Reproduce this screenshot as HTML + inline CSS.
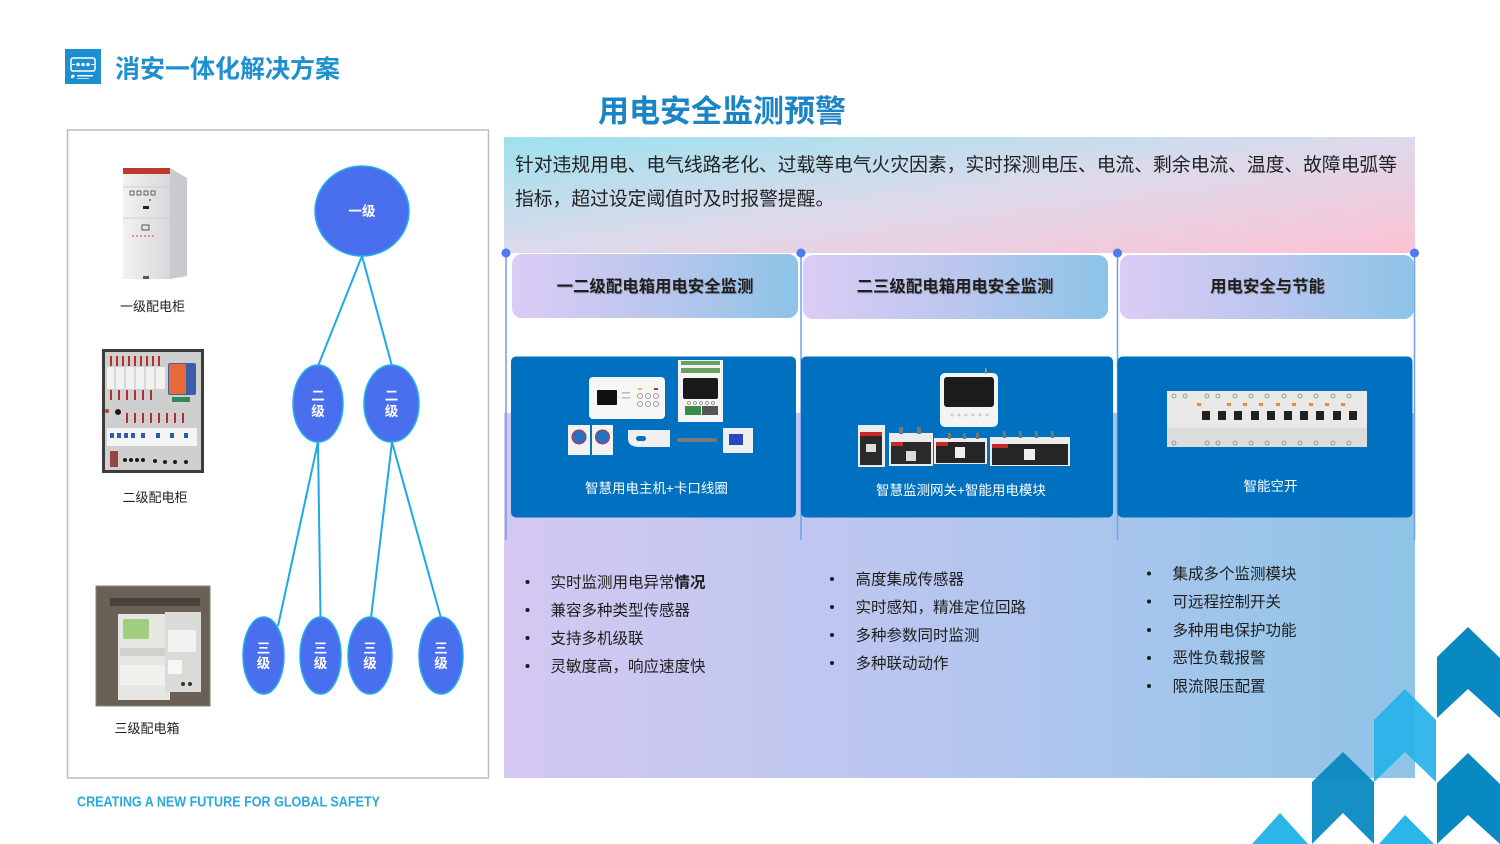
<!DOCTYPE html>
<html><head><meta charset="utf-8">
<style>
html,body{margin:0;padding:0;background:#fff;}
body{width:1500px;height:844px;overflow:hidden;}
svg{display:block;}
text{font-family:"Liberation Sans","Noto Sans CJK SC",sans-serif;}
</style></head>
<body>
<svg width="1500" height="844" viewBox="0 0 1500 844" xmlns="http://www.w3.org/2000/svg">
<defs>
  <linearGradient id="gTop" gradientUnits="userSpaceOnUse" x1="504" y1="137" x2="533" y2="365">
    <stop offset="0" stop-color="#9ce1ee"/>
    <stop offset="0.5" stop-color="#dcdaeb"/>
    <stop offset="1" stop-color="#fcc2d3"/>
  </linearGradient>
  <linearGradient id="gBot" x1="0" y1="0" x2="1" y2="0">
    <stop offset="0" stop-color="#d4c8f2"/>
    <stop offset="0.55" stop-color="#b2c6ee"/>
    <stop offset="1" stop-color="#8ec4e7"/>
  </linearGradient>
  <linearGradient id="gTab" x1="0" y1="0" x2="1" y2="0">
    <stop offset="0" stop-color="#dacdf5"/>
    <stop offset="0.5" stop-color="#bcc6ee"/>
    <stop offset="1" stop-color="#8cc4e7"/>
  </linearGradient>
  <linearGradient id="gCab" x1="0" y1="0" x2="1" y2="0">
    <stop offset="0" stop-color="#f2f2f2"/>
    <stop offset="1" stop-color="#d8d8da"/>
  </linearGradient>
</defs>

<!-- Header logo -->
<rect x="65" y="49" width="36" height="35" fill="#1b8fd0"/>
<rect x="71" y="58" width="24" height="13" rx="2" fill="none" stroke="#fff" stroke-width="1.5"/>
<circle cx="78" cy="64.5" r="1.8" fill="#fff"/>
<circle cx="83" cy="64.5" r="1.8" fill="#fff"/>
<circle cx="88" cy="64.5" r="1.8" fill="#fff"/>
<rect x="72" y="64" width="3" height="1" fill="#fff"/>
<rect x="91" y="64" width="3" height="1" fill="#fff"/>
<path d="M71 76 q2 -3 4 0 q-2 3 -4 2z" fill="#fff"/>
<rect x="77" y="75" width="16" height="1.5" fill="#fff"/>
<rect x="77" y="78" width="12" height="1" fill="#fff" opacity="0.7"/>

<text x="115" y="77.5" font-size="25" font-weight="bold" fill="#1f8fcf">消安一体化解决方案</text>
<text x="598" y="122" font-size="31" font-weight="bold" fill="#1b84c4">用电安全监测预警</text>

<!-- Left box -->
<rect x="67.5" y="130" width="421" height="648" fill="#fff" stroke="#bdbdbd" stroke-width="1.5"/>

<!-- Cabinet 1 -->
<polygon points="170,168 187,178 187,276 170,279" fill="#c9cacd"/>
<rect x="123" y="168" width="47" height="111" fill="url(#gCab)"/>
<rect x="123" y="168" width="47" height="6" fill="#c0392b"/>
<line x1="123" y1="187" x2="170" y2="187" stroke="#c8c8c8" stroke-width="0.8"/>
<line x1="123" y1="218" x2="170" y2="218" stroke="#c8c8c8" stroke-width="0.8"/>
<rect x="130" y="191" width="4" height="4" fill="none" stroke="#444" stroke-width="0.8"/>
<rect x="137" y="191" width="4" height="4" fill="none" stroke="#444" stroke-width="0.8"/>
<rect x="144" y="191" width="4" height="4" fill="none" stroke="#444" stroke-width="0.8"/>
<rect x="151" y="191" width="4" height="4" fill="none" stroke="#444" stroke-width="0.8"/>
<rect x="143" y="206" width="6" height="3" fill="#222"/>
<circle cx="150" cy="200" r="1" fill="#c0392b"/>
<rect x="142" y="225" width="7" height="5" fill="none" stroke="#333" stroke-width="0.8"/>
<g fill="#c0392b"><circle cx="133" cy="236" r="0.8"/><circle cx="137" cy="236" r="0.8"/><circle cx="141" cy="236" r="0.8"/><circle cx="145" cy="236" r="0.8"/><circle cx="149" cy="236" r="0.8"/><circle cx="153" cy="236" r="0.8"/></g>
<rect x="143" y="276" width="6" height="3" fill="#555"/>
<text x="152.5" y="311" font-size="13" fill="#222" text-anchor="middle">一级配电柜</text>

<!-- Cabinet 2 -->
<rect x="102" y="349" width="102" height="124" fill="#3c3c3c"/>
<rect x="105" y="352" width="96" height="118" fill="#cfcfcf"/>
<g fill="#b03030">
  <rect x="110" y="356" width="2" height="10"/><rect x="116" y="356" width="2" height="10"/><rect x="122" y="356" width="2" height="10"/><rect x="128" y="356" width="2" height="10"/><rect x="134" y="356" width="2" height="10"/><rect x="140" y="356" width="2" height="10"/><rect x="146" y="356" width="2" height="10"/><rect x="152" y="356" width="2" height="10"/><rect x="158" y="356" width="2" height="10"/>
  <rect x="110" y="390" width="2" height="10"/><rect x="118" y="390" width="2" height="10"/><rect x="126" y="390" width="2" height="10"/><rect x="134" y="390" width="2" height="10"/><rect x="142" y="390" width="2" height="10"/><rect x="150" y="390" width="2" height="10"/>
  <rect x="126" y="413" width="2" height="10"/><rect x="134" y="413" width="2" height="10"/><rect x="142" y="413" width="2" height="10"/><rect x="150" y="413" width="2" height="10"/><rect x="158" y="413" width="2" height="10"/><rect x="166" y="413" width="2" height="10"/><rect x="174" y="413" width="2" height="10"/><rect x="182" y="413" width="2" height="10"/>
</g>
<rect x="107" y="367" width="58" height="22" fill="#f2f2f2"/>
<g stroke="#999" stroke-width="0.6"><line x1="115" y1="367" x2="115" y2="389"/><line x1="125" y1="367" x2="125" y2="389"/><line x1="135" y1="367" x2="135" y2="389"/><line x1="145" y1="367" x2="145" y2="389"/><line x1="155" y1="367" x2="155" y2="389"/></g>
<rect x="168" y="363" width="28" height="32" rx="2" fill="#3b5fa8"/>
<rect x="169" y="364" width="17" height="30" rx="1" fill="#e8683a"/>
<rect x="172" y="397" width="18" height="5" fill="#2e8b57"/>
<rect x="107" y="428" width="90" height="18" fill="#f4f4f4"/>
<g fill="#2a5db0"><rect x="110" y="433" width="4" height="5"/><rect x="117" y="433" width="4" height="5"/><rect x="124" y="433" width="4" height="5"/><rect x="131" y="433" width="4" height="5"/><rect x="141" y="433" width="4" height="5"/><rect x="156" y="433" width="4" height="5"/><rect x="170" y="433" width="4" height="5"/><rect x="184" y="433" width="4" height="5"/></g>
<g fill="#1a1a1a"><circle cx="125" cy="460" r="2"/><circle cx="131" cy="460" r="2"/><circle cx="137" cy="460" r="2"/><circle cx="143" cy="460" r="2"/><circle cx="155" cy="461" r="2"/><circle cx="165" cy="462" r="2"/><circle cx="175" cy="462" r="2"/><circle cx="186" cy="462" r="2"/><circle cx="118" cy="412" r="3"/></g>
<circle cx="107" cy="411" r="2" fill="#c0392b"/>
<rect x="110" y="451" width="8" height="16" fill="#8a2020" opacity="0.8"/>
<text x="155" y="502" font-size="13" fill="#222" text-anchor="middle">二级配电柜</text>

<!-- Cabinet 3 -->
<rect x="96" y="586" width="114" height="120" fill="#6b6056"/>
<rect x="96" y="586" width="114" height="120" fill="none" stroke="#8a8076" stroke-width="1"/>
<rect x="110" y="598" width="90" height="8" fill="#4a423a"/>
<rect x="118" y="614" width="52" height="86" fill="#e6e6e2"/>
<rect x="123" y="619" width="26" height="20" rx="2" fill="#9fcf7e"/>
<rect x="120" y="648" width="48" height="8" fill="#d0d0cc"/>
<rect x="120" y="665" width="48" height="20" fill="#f0f0ee"/>
<rect x="165" y="612" width="36" height="80" fill="#dadad6"/>
<rect x="168" y="630" width="28" height="22" fill="#f2f2f0"/>
<rect x="168" y="660" width="14" height="14" fill="#f6f6f4"/>
<circle cx="183" cy="684" r="2" fill="#333"/><circle cx="190" cy="684" r="2" fill="#333"/>
<text x="147" y="733" font-size="13" fill="#222" text-anchor="middle">三级配电箱</text>

<!-- Tree connectors -->
<g stroke="#1ea9e6" stroke-width="2" fill="none">
  <line x1="362" y1="256" x2="318" y2="366"/>
  <line x1="362" y1="256" x2="392" y2="366"/>
  <line x1="318" y1="442" x2="278" y2="626"/>
  <line x1="318" y1="442" x2="320.5" y2="618"/>
  <line x1="392" y1="442" x2="371" y2="618"/>
  <line x1="392" y1="442" x2="441" y2="618"/>
</g>
<g fill="#4a6fee" stroke="#22b0ea" stroke-width="1.5">
  <ellipse cx="362" cy="211" rx="47" ry="45"/>
  <ellipse cx="318" cy="403.5" rx="25" ry="38.5"/>
  <ellipse cx="391.5" cy="403.5" rx="27.5" ry="38.5"/>
  <ellipse cx="263.5" cy="655.5" rx="20.5" ry="38.5"/>
  <ellipse cx="320.5" cy="655.5" rx="20.5" ry="38.5"/>
  <ellipse cx="370" cy="655.5" rx="22" ry="38.5"/>
  <ellipse cx="441" cy="655.5" rx="22" ry="38.5"/>
</g>
<g fill="#fff" font-size="13.5" font-weight="bold" text-anchor="middle">
  <text x="362" y="216">一级</text>
  <text x="318" y="400.5">二</text><text x="318" y="416">级</text>
  <text x="391.5" y="400.5">二</text><text x="391.5" y="416">级</text>
  <text x="263.5" y="653">三</text><text x="263.5" y="668">级</text>
  <text x="320.5" y="653">三</text><text x="320.5" y="668">级</text>
  <text x="370" y="653">三</text><text x="370" y="668">级</text>
  <text x="441" y="653">三</text><text x="441" y="668">级</text>
</g>

<!-- Footer -->
<text x="77" y="806.5" font-size="15" font-weight="bold" fill="#2ba8dc" textLength="303" lengthAdjust="spacingAndGlyphs">CREATING A NEW FUTURE FOR GLOBAL SAFETY</text>

<!-- Right panel backgrounds -->
<rect x="504" y="137" width="911" height="116" fill="url(#gTop)"/>
<rect x="504" y="413" width="911" height="365" fill="url(#gBot)"/>

<text x="515" y="171" font-size="18.8" fill="#222" textLength="882" lengthAdjust="spacing">针对违规用电、电气线路老化、过载等电气火灾因素，实时探测电压、电流、剩余电流、温度、故障电弧等</text>
<text x="515" y="205" font-size="18.8" fill="#222">指标，超过设定阈值时及时报警提醒。</text>

<!-- vertical lines -->
<g stroke="#6fa0ee" stroke-width="1.5">
  <line x1="506" y1="253" x2="506" y2="540"/>
  <line x1="801" y1="253" x2="801" y2="540"/>
  <line x1="1117.5" y1="253" x2="1117.5" y2="540"/>
  <line x1="1414.5" y1="253" x2="1414.5" y2="540"/>
</g>
<g fill="#4d7bf2">
  <circle cx="506" cy="253" r="4.5"/>
  <circle cx="801" cy="253" r="4.5"/>
  <circle cx="1117.5" cy="253" r="4.5"/>
  <circle cx="1414.5" cy="253" r="4.5"/>
</g>

<!-- tabs -->
<rect x="512" y="254" width="286" height="64" rx="10" fill="url(#gTab)"/>
<rect x="803" y="255" width="305" height="64" rx="10" fill="url(#gTab)"/>
<rect x="1120" y="255" width="294" height="64" rx="10" fill="url(#gTab)"/>
<g font-size="16.4" font-weight="bold" text-anchor="middle">
  <text x="656" y="293" fill="#8a8a9a" opacity="0.6">一二级配电箱用电安全监测</text>
  <text x="655" y="292" fill="#1e1e1e">一二级配电箱用电安全监测</text>
  <text x="956" y="293" fill="#8a8a9a" opacity="0.6">二三级配电箱用电安全监测</text>
  <text x="955" y="292" fill="#1e1e1e">二三级配电箱用电安全监测</text>
  <text x="1268.5" y="293" fill="#8a8a9a" opacity="0.6">用电安全与节能</text>
  <text x="1267.5" y="292" fill="#1e1e1e">用电安全与节能</text>
</g>

<!-- blue boxes -->
<rect x="511" y="356.5" width="285" height="161" rx="5" fill="#0070c0"/>
<rect x="801" y="356.5" width="312" height="161" rx="5" fill="#0070c0"/>
<rect x="1117.5" y="356.5" width="295" height="161" rx="5" fill="#0070c0"/>

<!-- box1 products -->
<rect x="589" y="377" width="76" height="42" rx="4" fill="#f6f6f6"/>
<rect x="597" y="390" width="20" height="15" rx="1" fill="#111"/>
<g fill="#bbb"><rect x="622" y="392" width="8" height="1.5"/><rect x="622" y="397" width="8" height="1.5"/></g>
<circle cx="640" cy="396" r="2.5" fill="none" stroke="#888" stroke-width="0.8"/>
<circle cx="648" cy="396" r="2.5" fill="none" stroke="#888" stroke-width="0.8"/>
<circle cx="656" cy="396" r="2.5" fill="none" stroke="#888" stroke-width="0.8"/>
<circle cx="640" cy="404" r="2.5" fill="none" stroke="#888" stroke-width="0.8"/>
<circle cx="648" cy="404" r="2.5" fill="none" stroke="#888" stroke-width="0.8"/>
<circle cx="656" cy="404" r="2.5" fill="none" stroke="#888" stroke-width="0.8"/>
<rect x="638" y="388" width="4" height="2" fill="#e8c040"/><rect x="654" y="388" width="4" height="2" fill="#c03030"/>
<rect x="678" y="360" width="45" height="62" fill="#f4f4f4"/>
<rect x="681" y="361" width="39" height="4" fill="#6aa060"/>
<rect x="681" y="368" width="39" height="5" fill="#6aa060"/>
<rect x="683" y="378" width="35" height="21" rx="2" fill="#1a1a1a"/>
<g fill="none" stroke="#888" stroke-width="0.8"><circle cx="689" cy="403" r="1.5"/><circle cx="695" cy="403" r="1.5"/><circle cx="701" cy="403" r="1.5"/><circle cx="707" cy="403" r="1.5"/><circle cx="713" cy="403" r="1.5"/></g>
<rect x="685" y="406" width="16" height="9" fill="#3a8a4a"/>
<rect x="702" y="406" width="16" height="9" fill="#555"/>
<rect x="568" y="425" width="22" height="30" fill="#f2f2f2"/>
<rect x="592" y="425" width="21" height="30" fill="#f2f2f2"/>
<circle cx="579" cy="437" r="7" fill="#2a70c0" stroke="#c03030" stroke-width="1"/>
<circle cx="602.5" cy="437" r="7" fill="#2a70c0" stroke="#c03030" stroke-width="1"/>
<path d="M628 430 h42 v17 h-30 q-12 0 -12 -8z" fill="#efefef"/>
<rect x="636" y="436" width="10" height="5" rx="2.5" fill="#0070c0"/>
<rect x="677" y="438" width="40" height="4" rx="2" fill="#7a7a7a"/>
<rect x="723" y="428" width="30" height="25" fill="#f0f0f0"/>
<rect x="729" y="434" width="14" height="11" fill="#2848c0"/>

<!-- box2 products -->
<rect x="940" y="373" width="58" height="54" rx="5" fill="#f4f4f4"/>
<rect x="944" y="377" width="50" height="30" rx="3" fill="#1c1c1c"/>
<g fill="#ccc"><circle cx="952" cy="415" r="1.5"/><circle cx="959" cy="415" r="1.5"/><circle cx="966" cy="415" r="1.5"/><circle cx="973" cy="415" r="1.5"/><circle cx="980" cy="415" r="1.5"/><circle cx="987" cy="415" r="1.5"/></g>
<rect x="985" y="368" width="1.5" height="6" fill="#c8a040"/>
<rect x="858" y="425" width="27" height="42" fill="#ececec"/>
<rect x="860" y="432" width="22" height="33" fill="#2a2a2a"/>
<rect x="860" y="432" width="22" height="4" fill="#c8282a"/>
<rect x="866" y="444" width="10" height="8" fill="#ddd"/>
<rect x="889" y="433" width="44" height="33" fill="#ececec"/>
<rect x="891" y="442" width="40" height="22" fill="#2a2a2a"/>
<rect x="891" y="442" width="12" height="4" fill="#c8282a"/>
<rect x="906" y="451" width="10" height="10" fill="#ddd"/>
<rect x="899" y="427" width="4" height="7" fill="#777"/><rect x="917" y="427" width="4" height="7" fill="#777"/>
<rect x="934" y="438" width="53" height="26" fill="#ececec"/>
<rect x="936" y="442" width="49" height="21" fill="#252525"/>
<rect x="936" y="442" width="12" height="4" fill="#c8282a"/>
<rect x="955" y="447" width="10" height="11" fill="#eee"/>
<rect x="948" y="433" width="3" height="6" fill="#777"/><rect x="963" y="433" width="3" height="6" fill="#777"/><rect x="976" y="433" width="3" height="6" fill="#777"/>
<rect x="990" y="437" width="80" height="29" fill="#ececec"/>
<rect x="992" y="444" width="76" height="21" fill="#252525"/>
<rect x="992" y="444" width="16" height="4" fill="#c8282a"/>
<rect x="1024" y="449" width="11" height="11" fill="#eee"/>
<rect x="1003" y="431" width="3" height="7" fill="#777"/><rect x="1019" y="431" width="3" height="7" fill="#777"/><rect x="1035" y="431" width="3" height="7" fill="#777"/><rect x="1051" y="431" width="3" height="7" fill="#777"/>

<!-- box3 breaker -->
<rect x="1167" y="391" width="200" height="56" fill="#e9e9e9"/>
<rect x="1167" y="428" width="200" height="19" fill="#dcdcdc"/>
<g fill="#222">
  <rect x="1202" y="411" width="8" height="9"/><rect x="1218" y="411" width="8" height="9"/><rect x="1234" y="411" width="8" height="9"/><rect x="1251" y="411" width="8" height="9"/><rect x="1267" y="411" width="8" height="9"/><rect x="1284" y="411" width="8" height="9"/><rect x="1300" y="411" width="8" height="9"/><rect x="1316" y="411" width="8" height="9"/><rect x="1333" y="411" width="8" height="9"/><rect x="1349" y="411" width="8" height="9"/>
</g>
<g fill="#f08a30">
  <rect x="1197" y="403" width="4" height="3"/><rect x="1227" y="403" width="4" height="3"/><rect x="1243" y="403" width="4" height="3"/><rect x="1259" y="403" width="4" height="3"/><rect x="1276" y="403" width="4" height="3"/><rect x="1292" y="403" width="4" height="3"/><rect x="1309" y="403" width="4" height="3"/><rect x="1325" y="403" width="4" height="3"/><rect x="1341" y="403" width="4" height="3"/>
</g>
<g fill="none" stroke="#888" stroke-width="0.8">
  <circle cx="1174" cy="396" r="2"/><circle cx="1185" cy="396" r="2"/><circle cx="1207" cy="396" r="2"/><circle cx="1218" cy="396" r="2"/><circle cx="1235" cy="396" r="2"/><circle cx="1251" cy="396" r="2"/><circle cx="1267" cy="396" r="2"/><circle cx="1284" cy="396" r="2"/><circle cx="1300" cy="396" r="2"/><circle cx="1316" cy="396" r="2"/><circle cx="1333" cy="396" r="2"/><circle cx="1349" cy="396" r="2"/>
  <circle cx="1174" cy="443" r="2"/><circle cx="1207" cy="443" r="2"/><circle cx="1218" cy="443" r="2"/><circle cx="1235" cy="443" r="2"/><circle cx="1251" cy="443" r="2"/><circle cx="1267" cy="443" r="2"/><circle cx="1284" cy="443" r="2"/><circle cx="1300" cy="443" r="2"/><circle cx="1316" cy="443" r="2"/><circle cx="1333" cy="443" r="2"/><circle cx="1349" cy="443" r="2"/>
</g>

<g fill="#fff" font-size="13.5" text-anchor="middle">
  <text x="656.5" y="493">智慧用电主机+卡口线圈</text>
  <text x="961" y="495">智慧监测网关+智能用电模块</text>
  <text x="1270.5" y="491">智能空开</text>
</g>

<!-- bullets -->
<g fill="#1a1a1a">
  <circle cx="527.5" cy="582" r="2"/><circle cx="527.5" cy="610" r="2"/><circle cx="527.5" cy="638" r="2"/><circle cx="527.5" cy="666" r="2"/>
  <circle cx="832" cy="579" r="2"/><circle cx="832" cy="607" r="2"/><circle cx="832" cy="635" r="2"/><circle cx="832" cy="663" r="2"/>
  <circle cx="1149" cy="573.5" r="2"/><circle cx="1149" cy="601.5" r="2"/><circle cx="1149" cy="630" r="2"/><circle cx="1149" cy="658" r="2"/><circle cx="1149" cy="686" r="2"/>
</g>
<g fill="#1e1e1e" font-size="15.5">
  <text x="550.5" y="587.5">实时监测用电异常<tspan font-weight="bold">情况</tspan></text>
  <text x="550.5" y="615.5">兼容多种类型传感器</text>
  <text x="550.5" y="643.5">支持多机级联</text>
  <text x="550.5" y="671.5">灵敏度高，响应速度快</text>
  <text x="855.5" y="584.5">高度集成传感器</text>
  <text x="855.5" y="612.5">实时感知，精准定位回路</text>
  <text x="855.5" y="640.5">多种参数同时监测</text>
  <text x="855.5" y="668.5">多种联动动作</text>
  <text x="1172.5" y="579">集成多个监测模块</text>
  <text x="1172.5" y="607">可远程控制开关</text>
  <text x="1172.5" y="635.5">多种用电保护功能</text>
  <text x="1172.5" y="663">恶性负载报警</text>
  <text x="1172.5" y="691.5">限流限压配置</text>
</g>

<!-- decorative chevrons -->
<polygon points="1437,657 1468,627 1500,658 1500,718 1468,689 1437,718" fill="#0889c1"/>
<polygon points="1374,720 1405,689 1436,720 1436,782 1405,752 1374,782" fill="#26b2e8" opacity="0.92"/>
<polygon points="1312,782 1343,752 1374,782 1374,844 1343,813 1312,844" fill="#0889c1" opacity="0.95"/>
<polygon points="1437,783 1468,753 1500,784 1500,844 1468,815 1437,844" fill="#0889c1"/>
<polygon points="1252,844 1280,813 1308,844" fill="#2ab6e8"/>
<polygon points="1379,844 1405,815 1434,844" fill="#2ab6e8"/>
</svg>
</body></html>
